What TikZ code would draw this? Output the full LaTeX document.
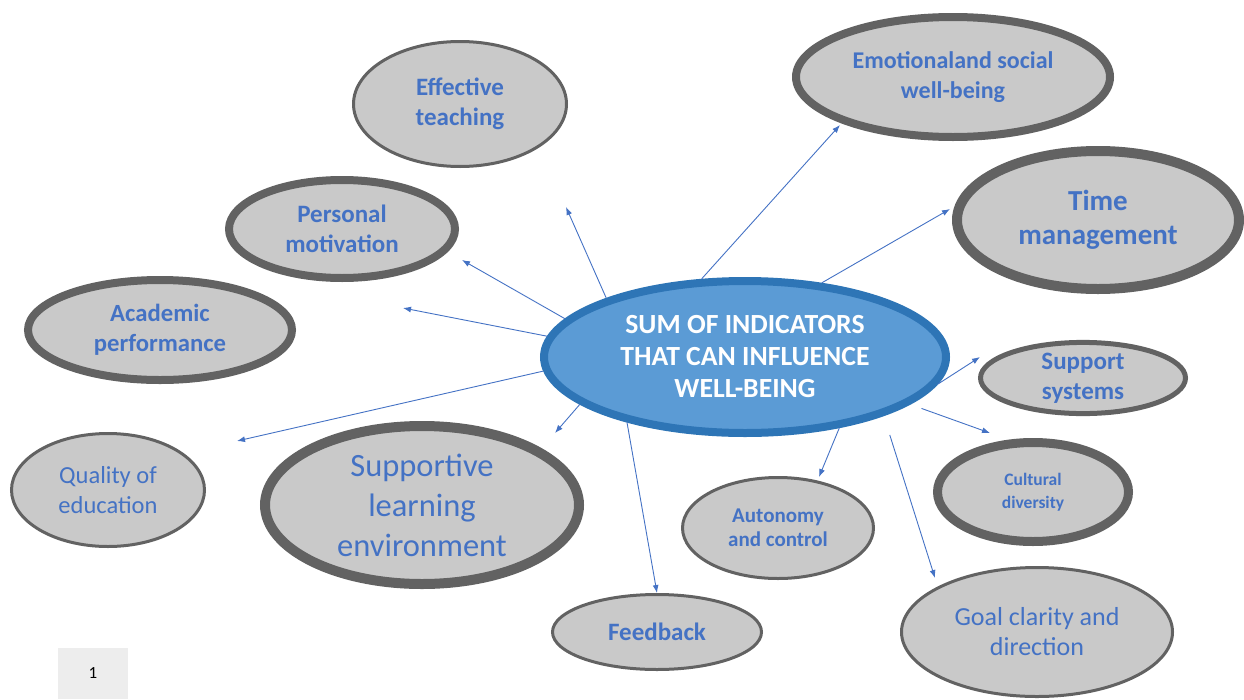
\documentclass[tikz,border=0pt]{standalone}
\usepackage{fontspec}
\setmainfont{Carlito}
\usetikzlibrary{arrows.meta,shapes.geometric}
\definecolor{txtblue}{HTML}{4472C4}
\definecolor{bubfill}{HTML}{C9C9C9}
\definecolor{bubdraw}{HTML}{626262}
\definecolor{cfill}{HTML}{5B9BD5}
\definecolor{cdraw}{HTML}{2E75B6}
\definecolor{arrowblue}{HTML}{4472C4}
\definecolor{pagebox}{HTML}{EDEDED}
\begin{document}
\begin{tikzpicture}[x=1pt,y=-1pt,
  bubble/.style={ellipse, fill=bubfill, draw=bubdraw, inner sep=0pt, text=txtblue, align=center},
  centre/.style={ellipse, fill=cfill, draw=cdraw, line width=8pt, inner sep=0pt, text=white, align=center,
    font={\fontsize{27.7}{32}\selectfont\bfseries}},
  bfine/.style={line width=3pt},
  bmid/.style={line width=5pt},
  bheavy/.style={line width=8pt},
  bxheavy/.style={line width=10pt},
  link/.style={draw=arrowblue, line width=0.9pt, -{Latex[length=8pt,width=6pt]}}
]
\useasboundingbox (0,0) rectangle (1244,699);

% centre
\node[centre, minimum width=402, minimum height=152] (c) at (745,357)
  {SUM OF INDICATORS\\THAT CAN INFLUENCE\\WELL-BEING};

% satellites
\node[bubble, bfine, minimum width=213, minimum height=125, font={\fontsize{25}{30}\selectfont\bfseries}]
  (et) at (460,104) {Effective\\teaching};
\node[bubble, bheavy, minimum width=226, minimum height=98, font={\fontsize{25}{30}\selectfont\bfseries}]
  (pm) at (342,229) {Personal\\motivation};
\node[bubble, bheavy, minimum width=264, minimum height=100, font={\fontsize{24.7}{30}\selectfont\bfseries}]
  (ap) at (160,330) {Academic\\performance};
\node[bubble, bfine, minimum width=193, minimum height=113, font={\fontsize{24.5}{29.5}\selectfont}]
  (qe) at (108,490) {Quality of\\education};
\node[bubble, bxheavy, minimum width=314, minimum height=158, font={\fontsize{32.5}{40}\selectfont}]
  (sl) at (422,505) {Supportive\\learning\\environment};
\node[bubble, bfine, minimum width=209, minimum height=75, font={\fontsize{25}{30}\selectfont\bfseries}]
  (fb) at (657,632) {Feedback};
\node[bubble, bfine, minimum width=191, minimum height=101, font={\fontsize{21}{24}\selectfont\bfseries}]
  (ac) at (778,528) {Autonomy\\and control};
\node[bubble, bfine, minimum width=271, minimum height=129, font={\fontsize{26}{30}\selectfont}]
  (gc) at (1037,632) {Goal clarity and\\direction};
\node[bubble, line width=9pt, minimum width=191, minimum height=99, font={\fontsize{17.5}{23}\selectfont\bfseries}]
  (cd) at (1033,492) {Cultural\\diversity};
\node[bubble, bmid, minimum width=205, minimum height=69, font={\fontsize{25}{30}\selectfont\bfseries}]
  (ss) at (1083,378) {Support\\systems};
\node[bubble, bxheavy, minimum width=282, minimum height=138, font={\fontsize{29}{34}\selectfont\bfseries}]
  (tm) at (1098,220) {Time\\management};
\node[bubble, bheavy, minimum width=314, minimum height=120, font={\fontsize{24}{30}\selectfont\bfseries}]
  (es) at (953,77) {Emotionaland social\\well-being};

% page number box
\node[fill=pagebox, minimum width=70, minimum height=51, inner sep=0pt, font={\fontsize{17}{20}\selectfont}]
  (pg) at (93,673.5) {1};

% arrow tips
\coordinate (t1) at (566,207);
\coordinate (t2) at (462,260);
\coordinate (t3) at (403,308);
\coordinate (t4) at (237,441);
\coordinate (t5) at (555,433);
\coordinate (t6) at (657,593);
\coordinate (t7) at (819,477);
\coordinate (t8) at (935,578);
\coordinate (t9) at (990,433);
\coordinate (t10) at (980,357);
\coordinate (t11) at (950,209);
\coordinate (t12) at (840,125);

% connectors
\draw[link] (c.157.5) -- (t1);
\draw[link] (c.168.3) -- (t2);
\draw[link] (c.174.4) -- (t3);
\draw[link] (c.184.7) -- (t4);
\draw[link] (c.196.5) -- (t5);
\draw[link] (c.209.4) -- (t6);
\draw[link] (c.323.3) -- (t7);
\draw[link, shorten <=20pt] (c.337.5) -- (t8);
\draw[link, shorten <=12pt] (c.344.6) -- (t9);
\draw[link] (c.352.6) -- (t10);
\draw[link] (c.44.3) -- (t11);
\draw[link] (c.119.7) -- (t12);
\end{tikzpicture}
\end{document}
